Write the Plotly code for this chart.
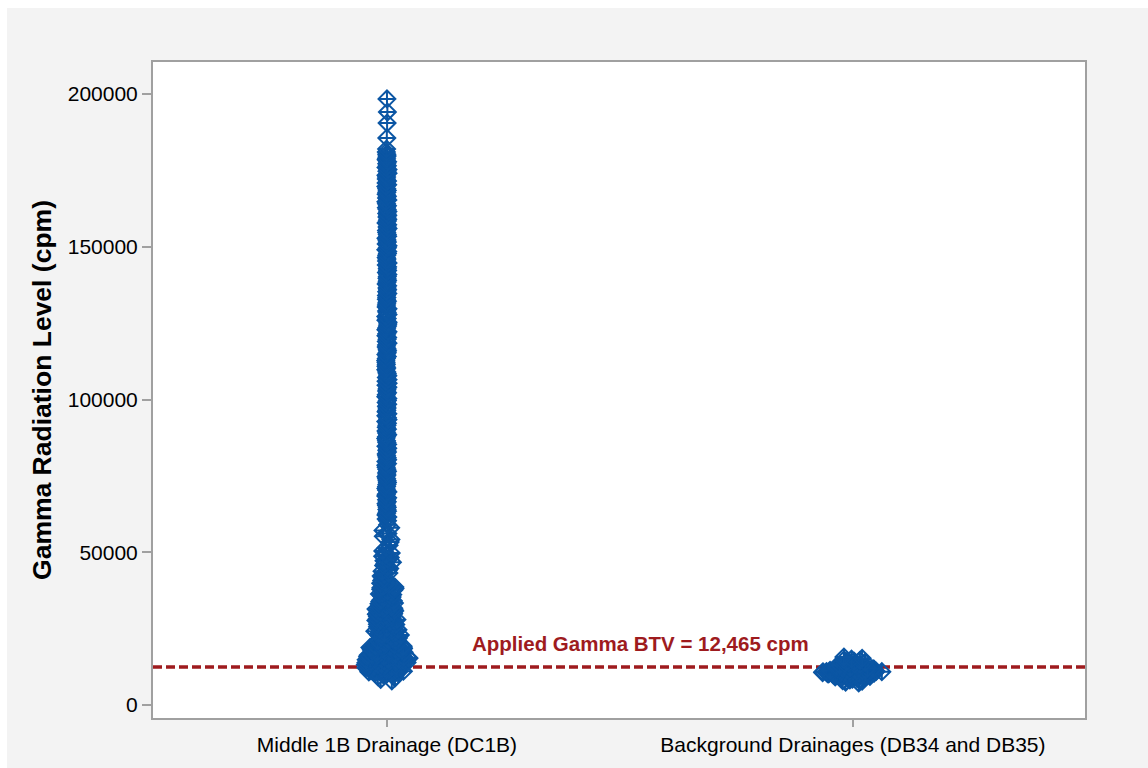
import plotly.graph_objects as go

# ---------------- data ----------------
categories = ["Middle 1B Drainage (DC1B)", "Background Drainages (DB34 and DB35)"]

# DC1B gamma readings (cpm) - lower, densest part of the distribution
dc1b_low = [
    7900, 8400, 8900, 9300, 9600, 9850,
    10050, 10150, 10300, 10400, 10500, 10650, 10700, 10850, 10950, 11050,
    11100, 11250, 11300, 11450, 11500, 11600, 11700, 11800, 11850, 11950,
    12020, 12080, 12150, 12210, 12290, 12340, 12400, 12480, 12530, 12610, 12680, 12750, 12830, 12910,
    13010, 13070, 13140, 13200, 13260, 13350, 13420, 13490, 13550, 13630, 13700, 13780, 13850, 13930,
    14040, 14100, 14170, 14230, 14300, 14380, 14440, 14510, 14590, 14660, 14720, 14800, 14870, 14950,
    15020, 15090, 15150, 15240, 15310, 15370, 15450, 15520, 15580, 15660, 15730, 15810, 15880, 15960,
    16050, 16160, 16270, 16350, 16480, 16590, 16690, 16780, 16900,
    17030, 17140, 17250, 17360, 17470, 17560, 17680, 17790, 17900,
    18060, 18170, 18280, 18370, 18490, 18600, 18710, 18820, 18930,
    19040, 19150, 19260, 19380, 19470, 19590, 19700, 19810, 19920,
    20100, 20260, 20430, 20590, 20750, 20910, 21080, 21250, 21400, 21580, 21740, 21900,
    22060, 22230, 22410, 22570, 22740, 22900, 23070, 23250, 23400, 23580, 23750, 23920,
    24150, 24400, 24650, 24900, 25130, 25400, 25640, 25880,
]

# DC1B gamma readings (cpm) - middle part
dc1b_mid = [
    26050, 26180, 26310, 26430, 26550, 26690, 26800, 26920, 27060, 27170, 27300, 27420, 27560, 27680, 27800, 27940,
    28050, 28180, 28310, 28420, 28550, 28670, 28810, 28930, 29050, 29190, 29300, 29430, 29560, 29670, 29800, 29920,
    30050, 30190, 30300, 30430, 30550, 30680, 30800, 30920, 31060, 31180, 31300, 31420, 31550, 31690, 31800, 31930,
    32100, 32360, 32600, 32850, 33120, 33350, 33600, 33870, 34100, 34350, 34620, 34850, 35100, 35360, 35600, 35850,
    36120, 36350, 36600, 36860, 37100, 37350, 37620, 37850, 38100, 38370, 38600, 38850, 39110, 39350, 39600, 39860,
    40200, 40750, 41200, 41700, 42250, 42700, 43200, 43750, 44200, 44700, 45250, 45700, 46200, 46750, 47200, 47700,
    48250, 48700, 49200, 49750,
    50400, 51400, 52300, 53350, 54200, 55200, 56100, 57150, 58000, 59000,
]

# DC1B gamma readings (cpm) - upper tail
dc1b_tail = [
    60300, 60900, 61500, 62200, 62800, 63450, 64000, 64700, 65300, 65900, 66550, 67200,
    67800, 68400, 69000, 69750, 70300, 70900, 71550, 72200, 72800, 73400, 74050, 74700,
    75300, 75950, 76500, 77200, 77800, 78450, 79000, 79700, 80300, 80900, 81550, 82200,
    82800, 83400, 84050, 84700, 85300, 85950, 86500, 87200, 87800, 88450, 89000, 89700,
    90300, 90900, 91550, 92200, 92800, 93400, 94050, 94700, 95300, 95950, 96500, 97200,
    97800, 98450, 99000, 99700, 100300, 100900, 101550, 102200, 102800, 103400, 104050, 104700,
    105300, 105950, 106500, 107200, 107800, 108450, 109000, 109700, 110300, 110900, 111550, 112200,
    112800, 113400, 114050, 114700, 115300, 115950, 116500, 117200, 117800, 118450, 119000, 119700,
    120300, 120900, 121550, 122200, 122800, 123400, 124050, 124700, 125300, 125950, 126500, 127200,
    127800, 128450, 129000, 129700, 130300, 130900, 131550, 132200, 132800, 133400, 134050, 134700,
    135300, 135950, 136500, 137200, 137800, 138450, 139000, 139700, 140300, 140900, 141550, 142200,
    142800, 143400, 144050, 144700, 145300, 145950, 146500, 147200, 147800, 148450, 149000, 149700,
    150300, 150900, 151550, 152200, 152800, 153400, 154050, 154700, 155300, 155950, 156500, 157200,
    157800, 158450, 159000, 159700, 160300, 160900, 161550, 162200, 162800, 163400, 164050, 164700,
    165300, 165950, 166500, 167200, 167800, 168450, 169000, 169700, 170300, 170900, 171550, 172200,
    172800, 173400, 174050, 174700, 175300, 175950, 176500, 177200, 177800, 178450, 179000, 179700,
    180300, 181000, 182000, 185600, 190500, 194100, 198400,
]

# Background drainages gamma readings (cpm)
background = [
    7200, 7500, 7800, 8000, 8200, 8350, 8500, 8620, 8740, 8850, 8950, 9050, 9140, 9230,
    9310, 9390, 9460, 9530, 9600, 9660, 9720, 9780, 9840, 9890, 9940, 9990, 10040, 10080,
    10120, 10160, 10200, 10240, 10280, 10310, 10340, 10370, 10400, 10430, 10460, 10490,
    10520, 10550, 10580, 10610, 10640, 10670, 10700, 10730, 10760, 10790, 10820, 10850,
    10880, 10910, 10940, 10970, 11000, 11030, 11060, 11100, 11140, 11180, 11220, 11260,
    11300, 11350, 11400, 11450, 11500, 11560, 11620, 11680, 11740, 11800, 11870, 11940,
    12010, 12090, 12170, 12250, 12340, 12430, 12520, 12620, 12720, 12830, 12940, 13060,
    13180, 13310, 13450, 13600, 13760, 13930, 14110, 14300, 14500, 14750, 15000, 15300, 15700,
]

btv = 12465
btv_label = "Applied Gamma BTV = 12,465 cpm"
y_ticks = [0, 50000, 100000, 150000, 200000]

# ---------------- style ----------------
BLUE = "#0B56A4"
RED = "#9E1B1E"
GRID = "#A0A0A0"
FONT = "Liberation Sans, Arial, sans-serif"
W, H = 1148, 768
L, R, T, B = 153, 1085, 62, 718

def pts_trace(vals, cat, jitter):
    return go.Box(
        y=vals,
        x=[cat] * len(vals),
        boxpoints="all",
        jitter=jitter,
        pointpos=0,
        fillcolor="rgba(0,0,0,0)",
        line=dict(color="rgba(0,0,0,0)", width=0),
        whiskerwidth=0,
        marker=dict(symbol="diamond-cross-open", size=13, color=BLUE,
                    line=dict(color=BLUE, width=2)),
        showlegend=False,
        hoverinfo="y",
    )

fig = go.Figure()
fig.add_trace(pts_trace(dc1b_low, categories[0], 0.2))
fig.add_trace(pts_trace(dc1b_mid, categories[0], 0.1))
fig.add_trace(pts_trace(dc1b_tail, categories[0], 0.01))
fig.add_trace(pts_trace(background, categories[1], 0.27))

fig.add_shape(type="line", xref="x", yref="y", x0=-0.502, x1=1.498, y0=btv, y1=btv,
              line=dict(color=RED, width=3.5, dash="9px,4px"), layer="below")

# white outer strips (left and top edge of picture)
pw, ph = R - L, B - T
fig.add_shape(type="rect", xref="paper", yref="paper",
              x0=-1, x1=(7 - L) / pw, y0=-1, y1=2,
              fillcolor="white", line=dict(width=0), layer="below")
fig.add_shape(type="rect", xref="paper", yref="paper",
              x0=-1, x1=2, y0=(B - 8) / ph, y1=2,
              fillcolor="white", line=dict(width=0), layer="below")

fig.add_annotation(x=0.545, xref="x", y=btv, yref="y", yanchor="bottom", yshift=10,
                   text="<b>" + btv_label + "</b>", showarrow=False,
                   font=dict(family=FONT, size=20.5, color=RED))

fig.update_layout(
    width=W, height=H,
    margin=dict(l=L, r=W - R, t=T, b=H - B, pad=0),
    paper_bgcolor="#F3F3F3",
    plot_bgcolor="white",
    font=dict(family=FONT, color="black"),
    boxmode="overlay",
)
fig.update_xaxes(
    type="category", categoryorder="array", categoryarray=categories,
    range=[-0.502, 1.498],
    showline=True, mirror=True, linecolor=GRID, linewidth=2,
    ticks="outside", ticklen=7, tickwidth=1.5, tickcolor=GRID,
    showgrid=False, zeroline=False,
    tickfont=dict(family=FONT, size=21, color="black"),
)
fig.update_yaxes(
    range=[-4255, 210475],
    tickvals=y_ticks, ticktext=[str(v) for v in y_ticks],
    showline=True, mirror=True, linecolor=GRID, linewidth=2,
    ticks="outside", ticklen=9, tickwidth=1.5, tickcolor=GRID,
    showgrid=False, zeroline=False,
    tickfont=dict(family=FONT, size=21, color="black"),
    title=dict(text="<b>Gamma Radiation Level (cpm)</b>", standoff=8,
               font=dict(family=FONT, size=26.5, color="black")),
)

fig.write_html("out.html")
